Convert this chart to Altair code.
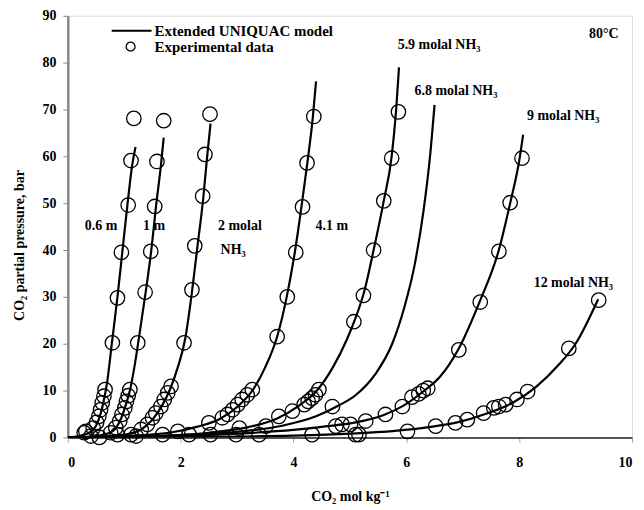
import altair as alt
import pandas as pd

# ---------------- model curves ----------------
m06_x = [0, 0.2, 0.4, 0.5, 0.58, 0.64, 0.7, 0.78, 0.88, 0.97, 1.06, 1.14, 1.2]
m06_y = [0, 0.3, 1.2, 2.5, 5, 8, 12, 20, 30, 40, 50, 58, 62]
m1_x = [0, 0.4, 0.7, 0.85, 0.95, 1.03, 1.1, 1.18, 1.27, 1.38, 1.48, 1.57, 1.65, 1.7]
m1_y = [0, 0.2, 0.8, 2.0, 4.2, 7, 10, 15, 22, 31, 40, 50, 58, 64]
m2_x = [0, 0.6, 1.0, 1.3, 1.5, 1.68, 1.82, 1.95, 2.08, 2.2, 2.3, 2.4, 2.47, 2.53]
m2_y = [0, 0.2, 0.6, 1.7, 3.8, 7, 10.5, 15, 21, 31, 41, 51, 60, 67]
m41_x = [0, 1.0, 1.8, 2.3, 2.7, 3.0, 3.3, 3.5, 3.71, 3.88, 4.03, 4.15, 4.25, 4.34, 4.4]
m41_y = [0, 0.3, 1.0, 2.3, 4.0, 6.5, 10.5, 15, 21.5, 30, 40, 50, 59, 68, 76]
m59_x = [0, 1.5, 2.5, 3.2, 3.7, 4.1, 4.4, 4.7, 4.95, 5.1, 5.25, 5.42, 5.6, 5.74, 5.82, 5.87]
m59_y = [0, 0.3, 1.0, 2.2, 4.0, 6.8, 9.8, 15, 21, 25.5, 31, 40, 50.5, 60, 70, 79]
m68_x = [0, 2, 3, 3.8, 4.4, 4.8, 5.1, 5.45, 5.75, 5.97, 6.15, 6.3, 6.42, 6.5]
m68_y = [0, 0.5, 1.2, 2.5, 4.5, 6.8, 9, 13.5, 20, 28, 37, 48, 60, 71]
m9_x = [0, 2, 3, 4, 4.6, 5.1, 5.6, 5.95, 6.3, 6.6, 6.93, 7.3, 7.64, 7.84, 8.0, 8.07]
m9_y = [0, 0.3, 0.8, 1.6, 2.4, 3.2, 4.8, 6.8, 9.8, 13, 19, 29, 40, 50, 59, 64.6]
m12_x = [0, 2, 4, 5, 5.8, 6.4, 6.9, 7.4, 7.9, 8.3, 8.7, 9.0, 9.4]
m12_y = [0, 0.1, 0.4, 0.8, 1.4, 2.2, 3.2, 5, 7.5, 10.8, 15.5, 20, 29.5]

# ---------------- experimental points ----------------
e06_x = [1.17, 1.12, 1.07, 0.95, 0.88, 0.79, 0.66, 0.64, 0.61, 0.58, 0.55, 0.51, 0.45, 0.32, 0.29, 0.41]
e06_y = [68.1, 59.1, 49.6, 39.5, 29.8, 20.2, 10.2, 8.8, 7.4, 5.9, 4.5, 3.2, 2.0, 1.3, 1.0, 0.3]
e1_x = [1.70, 1.58, 1.54, 1.47, 1.37, 1.24, 1.10, 1.07, 1.04, 1.01, 0.96, 0.92, 0.85, 0.76, 0.56, 0.88]
e1_y = [67.6, 58.9, 49.3, 39.7, 31.0, 20.2, 10.2, 8.9, 7.7, 6.3, 4.9, 3.5, 2.1, 1.0, 0.0, 0.6]
e2_x = [2.52, 2.43, 2.39, 2.25, 2.20, 2.06, 1.83, 1.77, 1.71, 1.65, 1.56, 1.50, 1.41, 1.30, 1.12, 1.21, 1.68]
e2_y = [69.0, 60.4, 51.5, 40.9, 31.5, 20.2, 10.9, 9.5, 8.1, 6.6, 5.2, 4.2, 2.8, 1.7, 0.6, 0.3, 0.6]
e41_x = [4.36, 4.24, 4.16, 4.04, 3.89, 3.71, 3.27, 3.18, 3.09, 3.01, 2.92, 2.83, 2.74, 2.50, 1.95, 2.15, 2.53]
e41_y = [68.5, 58.6, 49.2, 39.5, 30.0, 21.5, 10.2, 9.1, 8.1, 7.0, 5.9, 4.9, 4.2, 3.1, 1.3, 0.6, 0.6]
e59_x = [5.86, 5.74, 5.60, 5.42, 5.24, 5.07, 4.45, 4.39, 4.33, 4.26, 4.19, 3.98, 3.74, 3.51, 3.04, 2.98, 3.39]
e59_y = [69.5, 59.6, 50.5, 40.0, 30.3, 24.7, 10.2, 9.1, 8.4, 7.7, 7.0, 5.6, 4.5, 2.4, 2.0, 0.6, 0.6]
e68_x = [4.69, 4.33]
e68_y = [6.6, 0.6]
e9_x = [8.05, 7.84, 7.64, 7.31, 6.93, 6.38, 6.30, 6.22, 6.10, 5.93, 5.63, 5.28, 4.86, 4.75, 5.01]
e9_y = [59.6, 50.1, 39.7, 28.9, 18.7, 10.5, 10.0, 9.3, 8.6, 6.6, 4.9, 3.5, 2.8, 2.4, 2.8]
e12_x = [9.41, 8.88, 8.15, 7.96, 7.76, 7.64, 7.55, 7.37, 7.08, 6.87, 6.52, 6.02, 5.16, 5.10]
e12_y = [29.3, 19.0, 9.8, 8.1, 7.0, 6.6, 6.3, 5.2, 3.8, 3.1, 2.4, 1.3, 0.6, 0.6]

# ---------------- in-plot labels ----------------
lab_text = ["0.6 m", "1 m", "2 molal", "NH₃", "4.1 m", "5.9 molal NH₃",
            "6.8 molal NH₃", "9 molal NH₃", "12 molal NH₃", "80°C"]
lab_x = [0.59, 1.53, 3.05, 2.93, 4.68, 6.58, 6.88, 8.78, 8.96, 9.5]
lab_y = [45.2, 45.2, 45.2, 40.1, 45.2, 83.8, 74.0, 68.5, 32.9, 86.1]

x_ticks = [0, 2, 4, 6, 8, 10]
y_ticks = [0, 10, 20, 30, 40, 50, 60, 70, 80, 90]

FONT = "Liberation Serif"

models = [("0.6", m06_x, m06_y), ("1", m1_x, m1_y), ("2", m2_x, m2_y),
          ("4.1", m41_x, m41_y), ("5.9", m59_x, m59_y), ("6.8", m68_x, m68_y),
          ("9", m9_x, m9_y), ("12", m12_x, m12_y)]
rows = []
for name, xs, ys in models:
    for i, (a, b) in enumerate(zip(xs, ys)):
        rows.append({"s": name, "i": i, "x": a, "y": b})
model_df = pd.DataFrame(rows)

exps = [("0.6", e06_x, e06_y), ("1", e1_x, e1_y), ("2", e2_x, e2_y),
        ("4.1", e41_x, e41_y), ("5.9", e59_x, e59_y), ("6.8", e68_x, e68_y),
        ("9", e9_x, e9_y), ("12", e12_x, e12_y)]
rows = []
for name, xs, ys in exps:
    for a, b in zip(xs, ys):
        rows.append({"s": name, "x": a, "y": b})
exp_df = pd.DataFrame(rows)

lab_df = pd.DataFrame({"t": lab_text, "x": lab_x, "y": lab_y})

xscale = alt.Scale(domain=[0, 10], nice=False, zero=False)
yscale = alt.Scale(domain=[0, 90], nice=False, zero=False)

xaxis = alt.Axis(values=x_ticks, format="d", title="CO₂ mol kg⁻¹", grid=False,
                 labelFont=FONT, labelFontWeight="bold", labelFontSize=14,
                 labelColor="black", tickColor="#aaa", tickSize=5, labelPadding=13,
                 domainColor="#222", domainWidth=1.5,
                 titleFont=FONT, titleFontWeight="bold", titleFontSize=14,
                 titleColor="black", titleX=283, titleY=59,
                 titleAlign="center", titleBaseline="middle")
yaxis = alt.Axis(values=y_ticks, format="d", title="CO₂ partial pressure, bar", grid=False,
                 labelFont=FONT, labelFontWeight="bold", labelFontSize=14,
                 labelColor="black", tickColor="#888", tickSize=5, labelPadding=7,
                 domainColor="#888", domainWidth=2.5,
                 titleFont=FONT, titleFontWeight="bold", titleFontSize=14,
                 titleColor="black", titleX=-48, titleY=230, titleAngle=270,
                 titleAlign="center", titleBaseline="middle")

lines = alt.Chart(model_df).mark_line(color="black", strokeWidth=2.2, clip=True,
                                      interpolate="monotone").encode(
    x=alt.X("x:Q", scale=xscale, axis=xaxis),
    y=alt.Y("y:Q", scale=yscale, axis=yaxis),
    detail="s:N",
    order="i:Q",
)

points = alt.Chart(exp_df).mark_point(shape="circle", filled=False, color="black",
                                      strokeWidth=1.3, size=210, opacity=1).encode(
    x=alt.X("x:Q", scale=xscale),
    y=alt.Y("y:Q", scale=yscale),
)

labels = alt.Chart(lab_df).mark_text(font=FONT, fontWeight="bold", fontSize=14,
                                     color="black", align="center", baseline="middle").encode(
    x=alt.X("x:Q", scale=xscale),
    y=alt.Y("y:Q", scale=yscale),
    text="t:N",
)

one = pd.DataFrame({"a": [0]})
leg_line = alt.Chart(one).mark_rule(color="black", strokeWidth=2.2).encode(
    x=alt.value(44), x2=alt.value(84), y=alt.value(15))
leg_pt = alt.Chart(one).mark_point(shape="circle", filled=False, color="black",
                                   strokeWidth=1.3, size=80, opacity=1).encode(
    x=alt.value(63), y=alt.value(31))
leg_t1 = alt.Chart(one).mark_text(font=FONT, fontWeight="bold", fontSize=15, color="black",
                                  align="left", baseline="middle").encode(
    x=alt.value(87), y=alt.value(15), text=alt.value("Extended UNIQUAC model"))
leg_t2 = alt.Chart(one).mark_text(font=FONT, fontWeight="bold", fontSize=15, color="black",
                                  align="left", baseline="middle").encode(
    x=alt.value(87), y=alt.value(31), text=alt.value("Experimental data"))

chart = alt.layer(lines, points, labels, leg_line, leg_pt, leg_t1, leg_t2).properties(
    width=566, height=423,
    autosize=alt.AutoSizeParams(type="none"),
    padding={"left": 60, "top": 7, "right": 4, "bottom": 72},
).configure_view(stroke="#555", strokeWidth=1.5).configure(background="white")

chart.save("out.html", embed_options={"renderer": "svg", "actions": False})
